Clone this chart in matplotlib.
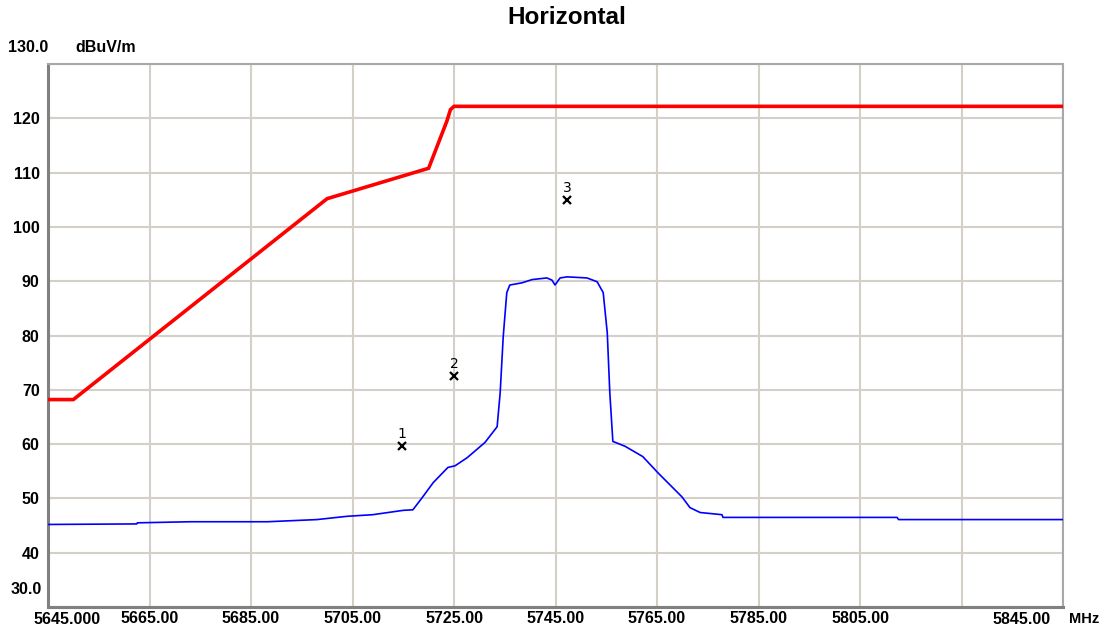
import matplotlib
matplotlib.use("Agg")
import matplotlib.pyplot as plt

# ---- data ----
limit_f = [5645, 5650, 5700, 5720, 5723.6, 5724.3, 5725, 5845]
limit_v = [68.2, 68.2, 105.2, 110.8, 119.5, 121.6, 122.2, 122.2]

trace_f = [5645, 5662.5, 5662.6, 5673.0, 5688.2, 5698.0, 5703.9, 5709.0, 5715.0, 5716.9,
           5718.7, 5720.9, 5723.8, 5725.2, 5727.6, 5731.1, 5733.5, 5734.1, 5734.7, 5735.4,
           5736.0, 5738.4, 5740.4, 5743.3, 5744.3, 5744.9, 5745.9, 5747.3, 5751.2, 5753.2,
           5754.4, 5755.2, 5755.7, 5756.3, 5758.7, 5762.2, 5765.2, 5769.9, 5771.5, 5773.5,
           5777.8, 5778.0, 5812.3, 5812.6, 5845]
trace_v = [45.2, 45.3, 45.5, 45.7, 45.7, 46.1, 46.7, 47.0, 47.8, 47.9,
           50.1, 52.9, 55.7, 56.0, 57.5, 60.3, 63.2, 69.5, 79.8, 87.9,
           89.3, 89.7, 90.3, 90.6, 90.2, 89.3, 90.6, 90.8, 90.6, 89.9,
           87.9, 80.5, 69.5, 60.5, 59.6, 57.7, 54.7, 50.3, 48.3, 47.4,
           47.0, 46.5, 46.5, 46.1, 46.1]

marker_f = [5714.8, 5725.0, 5747.3]
marker_v = [59.7, 72.6, 105.0]
marker_lbl = ["1", "2", "3"]

xticks = [5645, 5665, 5685, 5705, 5725, 5745, 5765, 5785, 5805, 5825, 5845]
xlabels = ["", "5665.00", "5685.00", "5705.00", "5725.00", "5745.00", "5765.00",
           "5785.00", "5805.00", "", ""]
yticks = [30, 40, 50, 60, 70, 80, 90, 100, 110, 120, 130]
ylabels = ["", "40", "50", "60", "70", "80", "90", "100", "110", "120", ""]

FONT = "Liberation Sans"
FS = 11.5

fig = plt.figure(figsize=(11.03, 6.32), dpi=100)
ax = fig.add_axes([48 / 1103, 1 - 607 / 632, (1063 - 48) / 1103, (607 - 64) / 632])
ax.set_xlim(5645, 5845)
ax.set_ylim(30, 130)

ax.set_xticks(xticks)
ax.set_xticklabels(xlabels, fontfamily=FONT, fontweight="bold", fontsize=FS)
ax.set_yticks(yticks)
ax.set_yticklabels(ylabels, fontfamily=FONT, fontweight="bold", fontsize=FS)
ax.tick_params(length=0, pad=6, colors="#000000")
ax.tick_params(axis="x", pad=3)
ax.grid(True, color="#d4d0c8", linewidth=1.5)
ax.set_axisbelow(True)

for side in ["top", "right"]:
    ax.spines[side].set_color("#a8a8a8")
    ax.spines[side].set_linewidth(1.5)
for side in ["left", "bottom"]:
    ax.spines[side].set_color("#808080")
    ax.spines[side].set_linewidth(2.2)

ax.plot(limit_f, limit_v, color="#ff0000", linewidth=2.6, solid_joinstyle="miter", zorder=3)
ax.plot(trace_f, trace_v, color="#0000ff", linewidth=1.2, zorder=3)

ax.plot(marker_f, marker_v, linestyle="none", marker="x", color="black",
        markersize=6, markeredgewidth=1.6, zorder=4)
for f, v, t in zip(marker_f, marker_v, marker_lbl):
    ax.annotate(t, (f, v), xytext=(0, 3.5), textcoords="offset points",
                ha="center", va="bottom", fontsize=10, fontfamily="DejaVu Sans", zorder=4)

# extra axis labels placed like the analyser display
tk = dict(fontfamily=FONT, fontweight="bold", fontsize=FS, color="black")
fig.text(8 / 1103, 1 - 47 / 632, "130.0", ha="left", va="center", **tk)
fig.text(75 / 1103, 1 - 47 / 632, "dBuV/m", ha="left", va="center", **tk)
fig.text(42 / 1103, 1 - 590 / 632, "30.0", ha="right", va="center", **tk)
fig.text(33 / 1103, 1 - 619 / 632, "5645.000", ha="left", va="center", **tk)
fig.text(1051 / 1103, 1 - 619 / 632, "5845.00", ha="right", va="center", **tk)
fig.text(1099 / 1103, 1 - 619 / 632, "MHz", ha="right", va="center",
         fontfamily=FONT, fontweight="bold", fontsize=10.5, color="black")

fig.text(567 / 1103, 1 - 18 / 632, "Horizontal", ha="center", va="center",
         fontfamily=FONT, fontweight="bold", fontsize=17.5)

fig.savefig("out.png", dpi=100, facecolor="white")
